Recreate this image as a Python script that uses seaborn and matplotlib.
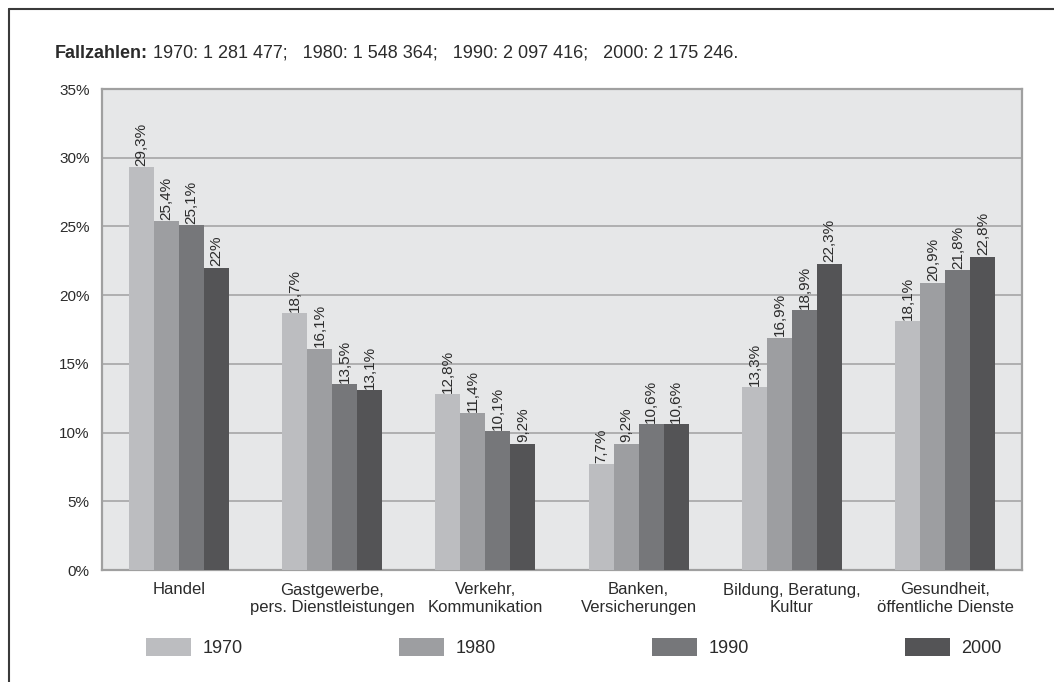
import pandas as pd
import seaborn as sns
import matplotlib.pyplot as plt
from matplotlib.lines import Line2D
from matplotlib.patches import Patch
from matplotlib.ticker import FuncFormatter

# Daten
branchen = ['Handel', 'Gastgewerbe,\npers. Dienstleistungen', 'Verkehr,\nKommunikation',
            'Banken,\nVersicherungen', 'Bildung, Beratung,\nKultur', 'Gesundheit,\nöffentliche Dienste']
jahre = ['1970', '1980', '1990', '2000']
werte_1970 = [29.3, 18.7, 12.8, 7.7, 13.3, 18.1]
werte_1980 = [25.4, 16.1, 11.4, 9.2, 16.9, 20.9]
werte_1990 = [25.1, 13.5, 10.1, 10.6, 18.9, 21.8]
werte_2000 = [22.0, 13.1, 9.2, 10.6, 22.3, 22.8]
titel_fett = 'Fallzahlen:'
titel_rest = ' 1970: 1 281 477;   1980: 1 548 364;   1990: 2 097 416;   2000: 2 175 246.'

farben = ['#bcbdc0', '#9d9ea1', '#76777a', '#545456']

rows = []
for jahr, werte in zip(jahre, [werte_1970, werte_1980, werte_1990, werte_2000]):
    for b, v in zip(branchen, werte):
        rows.append({'Branche': b, 'Jahr': jahr, 'Anteil': v})
df = pd.DataFrame(rows)

sns.set_style('white')
plt.rcParams['font.family'] = ['Liberation Sans', 'DejaVu Sans']
plt.rcParams['text.color'] = '#2b2b2b'

fig = plt.figure(figsize=(10.54, 6.82), dpi=100)
ax = fig.add_axes([102 / 1054, 1 - 570 / 682, 920 / 1054, 481 / 682])

sns.barplot(data=df, x='Branche', y='Anteil', hue='Jahr', palette=farben,
            width=0.652, saturation=1, ax=ax, legend=False, zorder=3, linewidth=0)

ax.set_facecolor('#e6e7e8')
ax.set_ylim(0, 35)
ax.set_yticks(range(0, 36, 5))
ax.yaxis.set_major_formatter(FuncFormatter(lambda v, p: f'{int(v)}%'))
ax.grid(axis='y', color='#a6a6a6', linewidth=1.2, zorder=0)
ax.set_axisbelow(True)
for s in ax.spines.values():
    s.set_color('#a0a0a0')
    s.set_linewidth(1.6)
ax.tick_params(axis='y', length=5, color='#a0a0a0', labelsize=11, labelcolor='#2b2b2b', pad=4)
ax.tick_params(axis='x', length=0, labelsize=12, labelcolor='#2b2b2b', pad=9)
ax.set_xlabel('')
ax.set_ylabel('')

for cont in ax.containers:
    labels = [(f'{b.get_height():.1f}'.rstrip('0').rstrip('.') + '%').replace('.', ',') for b in cont]
    ax.bar_label(cont, labels=labels, rotation=90, padding=1, fontsize=11, color='#2b2b2b')

handles = [Patch(facecolor=c, edgecolor='none') for c in farben]
fig.legend(handles, jahre, loc='center left',
           bbox_to_anchor=(146 / 1054, 1 - 658 / 682, 856 / 1054, 21 / 682), mode='expand',
           ncol=4, frameon=False, fontsize=13, handlelength=2.5, handleheight=1.15,
           handletextpad=0.66, borderpad=0, borderaxespad=0)

t = fig.text(55 / 1054, 1 - 58 / 682, titel_fett, fontsize=13, fontweight='bold', va='baseline')
ax.annotate(titel_rest, xy=(1, 0), xycoords=t, va='bottom', ha='left', fontsize=13,
            annotation_clip=False)

# Rahmen oben und links
fig.add_artist(Line2D([9 / 1054, 1], [1 - 9 / 682, 1 - 9 / 682], color='#3a3a3a', linewidth=1.5))
fig.add_artist(Line2D([9 / 1054, 9 / 1054], [0, 1 - 9 / 682], color='#3a3a3a', linewidth=1.5))

plt.savefig('out.png', dpi=100)
